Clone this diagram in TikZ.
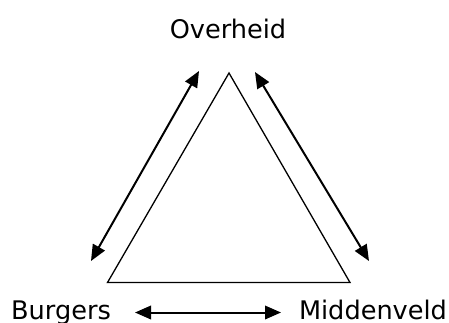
\documentclass[tikz,border=0pt]{standalone}
\usepackage{fontspec}
\setmainfont{DejaVu Sans}
\usetikzlibrary{arrows.meta}
\begin{document}
\begin{tikzpicture}[x=1pt,y=-1pt,
  label/.style={inner sep=0pt,anchor=base,font=\fontsize{25.6}{30}\selectfont},
  link/.style={line width=2pt,{Triangle[length=16pt,width=13.5pt]}-{Triangle[length=16pt,width=13.5pt]}},
  side/.style={line width=1.3pt,line join=miter}]
  \useasboundingbox (0,0) rectangle (449,322);
  % corners of the triangle
  \coordinate (top) at (229,73);
  \coordinate (bl) at (107.5,282.5);
  \coordinate (br) at (350,282.5);
  \draw[side] (top) -- (bl) -- (br) -- cycle;
  % the three actors
  \node[label] (ov) at (228,38) {Overheid};
  \node[label] (bu) at (61,319) {Burgers};
  \node[label] (mi) at (373,319) {Middenveld};
  % ends of the two-way arrows
  \coordinate (l1) at (199,71);
  \coordinate (l2) at (91,261);
  \coordinate (r1) at (255,72);
  \coordinate (r2) at (369,261);
  \coordinate (b1) at (135,312.5);
  \coordinate (b2) at (281,312.5);
  \draw[link] (l1) -- (l2);
  \draw[link] (r1) -- (r2);
  \draw[link] (b1) -- (b2);
\end{tikzpicture}
\end{document}
